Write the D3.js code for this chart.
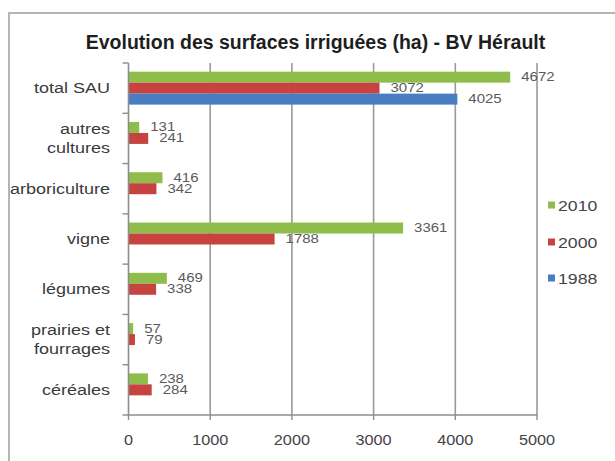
<!DOCTYPE html>
<html><head><meta charset="utf-8">
<script src="https://cdn.jsdelivr.net/npm/d3@7"></script>
<style>
html,body{margin:0;padding:0;background:#fff;}
svg{display:block;font-family:"Liberation Sans",Arial,sans-serif;}
</style></head>
<body>
<svg id="c" width="615" height="461"></svg>
<script>
const categories = ["total SAU","autres cultures","arboriculture","vigne","légumes","prairies et fourrages","céréales"];
const categoryLines = [["total SAU"],["autres","cultures"],["arboriculture"],["vigne"],["légumes"],["prairies et","fourrages"],["céréales"]];
const seriesNames = ["2010","2000","1988"];
const values2010 = [4672,131,416,3361,469,57,238];
const values2000 = [3072,241,342,1788,338,79,284];
const values1988 = [4025,null,null,null,null,null,null];
const xTicks = [0,1000,2000,3000,4000,5000];
const colors = {"2010":"#8fbd4b","2000":"#c7433f","1988":"#4a7cc2"};

const svg = d3.select("#c");
const seriesValues = {"2010":values2010,"2000":values2000,"1988":values1988};

// frame
svg.append("path").attr("d","M9,461V13H615").attr("fill","none").attr("stroke","#b4b4b4").attr("stroke-width",2);

// title
svg.append("text").attr("x",315.5).attr("y",49).attr("text-anchor","middle")
  .attr("font-weight","bold").attr("font-size",19.5).attr("fill","#1e1e1e")
  .text("Evolution des surfaces irriguées (ha) - BV Hérault");

const x = d3.scaleLinear().domain([0,5000]).range([128.5,537]);
const y = d3.scaleBand().domain(categories).range([63,415]);
const y1 = d3.scaleBand().domain(seriesNames).range([0,y.bandwidth()]).paddingOuter(0.79);

// gridlines
svg.append("g").selectAll("line").data(xTicks.slice(1)).join("line")
  .attr("x1",d=>x(d)).attr("x2",d=>x(d)).attr("y1",63).attr("y2",415)
  .attr("stroke","#9a9a9a").attr("stroke-width",1.6);

// bars
const rows = [];
categories.forEach((c,i)=>seriesNames.forEach(s=>{
  const v = seriesValues[s][i];
  if (v!=null) rows.push({c,s,v});
}));
svg.append("g").selectAll("rect").data(rows).join("rect")
  .attr("x",x(0)).attr("y",d=>y(d.c)+y1(d.s))
  .attr("width",d=>x(d.v)-x(0)).attr("height",y1.bandwidth())
  .attr("fill",d=>colors[d.s]);

// value labels
svg.append("g").selectAll("text").data(rows).join("text")
  .attr("transform",d=>`translate(${x(d.v)+11},${y(d.c)+y1(d.s)+y1.bandwidth()/2+4}) scale(1.2,1)`)
  .attr("font-size",12.5).attr("fill","#5a5a5a")
  .text(d=>d.v);

// axes lines
svg.append("line").attr("x1",x(0)).attr("x2",x(0)).attr("y1",63).attr("y2",415)
  .attr("stroke","#8c8c8c").attr("stroke-width",1.6);
svg.append("line").attr("x1",x(0)).attr("x2",x(5000)).attr("y1",415).attr("y2",415)
  .attr("stroke","#8c8c8c").attr("stroke-width",1.6);

// y ticks at boundaries
const bounds = categories.map(c=>y(c)).concat([415]);
svg.append("g").selectAll("line").data(bounds).join("line")
  .attr("x1",x(0)-6).attr("x2",x(0)).attr("y1",d=>d).attr("y2",d=>d)
  .attr("stroke","#8c8c8c").attr("stroke-width",1.4);
// x ticks
svg.append("g").selectAll("line").data(xTicks).join("line")
  .attr("x1",d=>x(d)).attr("x2",d=>x(d)).attr("y1",415).attr("y2",420)
  .attr("stroke","#8c8c8c").attr("stroke-width",1.4);
svg.append("g").selectAll("text").data(xTicks).join("text")
  .attr("transform",d=>`translate(${x(d)},${445}) scale(1.12,1)`)
  .attr("text-anchor","middle").attr("font-size",14.5).attr("fill","#444")
  .text(d=>d);

// category labels
const cl = svg.append("g").selectAll("text").data(categories).join("text")
  .attr("transform",(d,i)=>{
    const n = categoryLines[i].length;
    const cy = y(d)+y.bandwidth()/2 - (n-1)*19/2 + 5;
    return `translate(110,${cy}) scale(1.2,1)`;
  })
  .attr("text-anchor","end").attr("font-size",15).attr("fill","#3a3a3a");
cl.each(function(d,i){
  d3.select(this).selectAll("tspan").data(categoryLines[i]).join("tspan")
    .attr("x",0).attr("dy",(t,j)=>j===0?0:19).text(t=>t);
});

// legend
const lg = svg.append("g").selectAll("g").data(seriesNames).join("g")
  .attr("transform",(d,i)=>`translate(548,${[205,242,278][i]})`);
lg.append("rect").attr("x",0).attr("y",-3.5).attr("width",7).attr("height",7).attr("fill",d=>colors[d]);
lg.append("text").attr("transform","translate(10,5.5) scale(1.22,1)")
  .attr("font-size",14.5).attr("fill","#444").text(d=>d);
</script>
</body></html>
